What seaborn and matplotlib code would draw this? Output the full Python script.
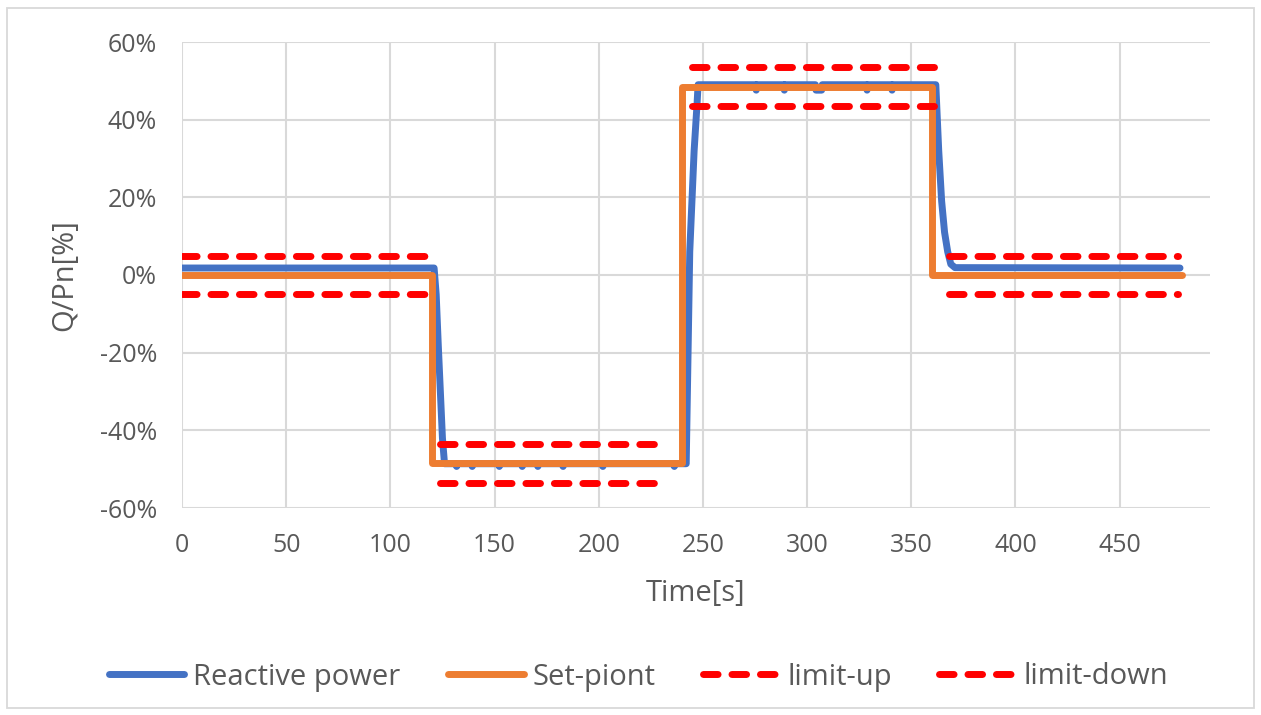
import matplotlib
matplotlib.use("Agg")
import matplotlib.pyplot as plt
from matplotlib.lines import Line2D
from matplotlib.patches import Rectangle
from matplotlib.ticker import FuncFormatter
import numpy as np
import pandas as pd
import seaborn as sns

# ---------------- data ----------------
# Reactive power (measured), Q/Pn in %
reactive_t = [0, 121, 122, 123, 124, 125, 126,
              131.5, 131.8, 132.1, 139, 139.3, 139.6, 152, 152.3, 152.6,
              163, 163.3, 163.6, 170.5, 170.8, 171.1, 182.6, 182.9, 183.2,
              201.7, 202.0, 202.3, 236, 236.3, 236.6, 242,
              243.7, 245.8, 247.2, 247.7,
              275.3, 275.6, 275.9, 288.8, 289.1, 289.4, 304, 304.3, 307, 307.3, 307.6,
              328.5, 328.8, 329.1, 340.5, 340.8, 341.1, 361.8,
              363.2, 364.6, 366.0, 367.5, 369, 371, 479]
reactive_q = [1.8, 1.8, -5, -18, -30, -42, -48.6,
              -48.6, -49.3, -48.6, -48.6, -49.3, -48.6, -48.6, -49.3, -48.6,
              -48.6, -49.3, -48.6, -48.6, -49.3, -48.6, -48.6, -49.3, -48.6,
              -48.6, -49.3, -48.6, -48.6, -49.3, -48.6, -48.6,
              6, 32, 44, 49,
              49, 47.6, 49, 49, 47.6, 49, 49, 47.6, 47.6, 49, 49,
              49, 47.6, 49, 49, 47.6, 49, 49,
              32, 19, 11, 6, 2.8, 1.9, 1.8]

# Set-point
setpoint_t = [0, 120, 120, 240, 240, 360, 360, 480]
setpoint_q = [0, 0, -48.5, -48.5, 48.5, 48.5, 0, 0]

# Tolerance band segments (start, end) and limits
limit_start = [0, 124, 245, 368]
limit_end = [120, 233, 360.8, 478]
limit_up = [5, -43.5, 53.5, 5]
limit_down = [-5, -53.5, 43.5, -5]

x_ticks = [0, 50, 100, 150, 200, 250, 300, 350, 400, 450]
y_ticks = [-60, -40, -20, 0, 20, 40, 60]
legend_labels = ["Reactive power", "Set-piont", "limit-up", "limit-down"]

# ---------------- style ----------------
sns.set_theme(style="white")
plt.rcParams['font.family'] = ['Open Sans', 'DejaVu Sans']
TEXT = "#595959"
GRID = "#D9D9D9"
BLUE = "#4472C4"
ORANGE = "#ED7D31"
RED = "#FF0000"
FS_TICK = 18
FS_LAB = 21
LW = 5
DASH = (2.1, 2.0)

fig = plt.figure(figsize=(12.61, 7.15), dpi=100)
ax = fig.add_axes([182 / 1261, 1 - 508 / 715, (1210 - 182) / 1261, (508 - 42) / 715])

# outer chart border
fig.patches.append(Rectangle((7 / 1261, 7 / 715), 1 - 14 / 1261, 1 - 15 / 715,
                             transform=fig.transFigure, fill=False,
                             edgecolor=GRID, linewidth=1.3))

df_r = pd.DataFrame({"t": reactive_t, "q": reactive_q})
df_s = pd.DataFrame({"t": setpoint_t, "q": setpoint_q})
rows = []
for i, (a, b) in enumerate(zip(limit_start, limit_end)):
    rows.append({"seg": i, "t": a, "up": limit_up[i], "down": limit_down[i]})
    rows.append({"seg": i, "t": b, "up": limit_up[i], "down": limit_down[i]})
df_l = pd.DataFrame(rows)

sns.lineplot(data=df_r, x="t", y="q", ax=ax, color=BLUE, linewidth=LW, sort=False,
             estimator=None, solid_capstyle="round", solid_joinstyle="round", zorder=3)
sns.lineplot(data=df_s, x="t", y="q", ax=ax, color=ORANGE, linewidth=LW, sort=False,
             estimator=None, solid_capstyle="round", solid_joinstyle="round", zorder=4)
for col in ["up", "down"]:
    sns.lineplot(data=df_l, x="t", y=col, units="seg", estimator=None, ax=ax,
                 color=RED, linewidth=LW, dashes=False, zorder=5)
for ln in ax.lines[2:]:
    ln.set_linestyle((0, DASH))
    ln.set_dash_capstyle("round")

ax.set_xlim(0, 493.4)
ax.set_ylim(-60, 60)
ax.set_xticks(x_ticks)
ax.set_yticks(y_ticks)
ax.yaxis.set_major_formatter(FuncFormatter(lambda v, p: f"{v:.0f}%"))
ax.grid(True, color=GRID, linewidth=1.5)
ax.set_axisbelow(True)
for s in ax.spines.values():
    s.set_visible(False)
ax.tick_params(axis="both", length=0, labelsize=FS_TICK, labelcolor=TEXT)
ax.tick_params(axis="x", pad=18)
ax.tick_params(axis="y", pad=18)
ax.set_xlabel("Time[s]", fontsize=FS_LAB, color=TEXT, labelpad=15)
ax.set_ylabel("Q/Pn[%]", fontsize=FS_LAB, color=TEXT, labelpad=15)

handles = [
    Line2D([], [], color=BLUE, lw=LW, solid_capstyle="round"),
    Line2D([], [], color=ORANGE, lw=LW, solid_capstyle="round"),
    Line2D([], [], color=RED, lw=LW, linestyle=(0, DASH), dash_capstyle="round"),
    Line2D([], [], color=RED, lw=LW, linestyle=(0, DASH), dash_capstyle="round"),
]
fig.legend(handles, legend_labels, loc="center", bbox_to_anchor=(0.5063, 1 - 677 / 715),
           ncol=4, frameon=False, fontsize=FS_LAB, labelcolor=TEXT,
           handlelength=2.6, handletextpad=0.3, columnspacing=1.62)

fig.savefig("out.png", dpi=100, facecolor="white")
